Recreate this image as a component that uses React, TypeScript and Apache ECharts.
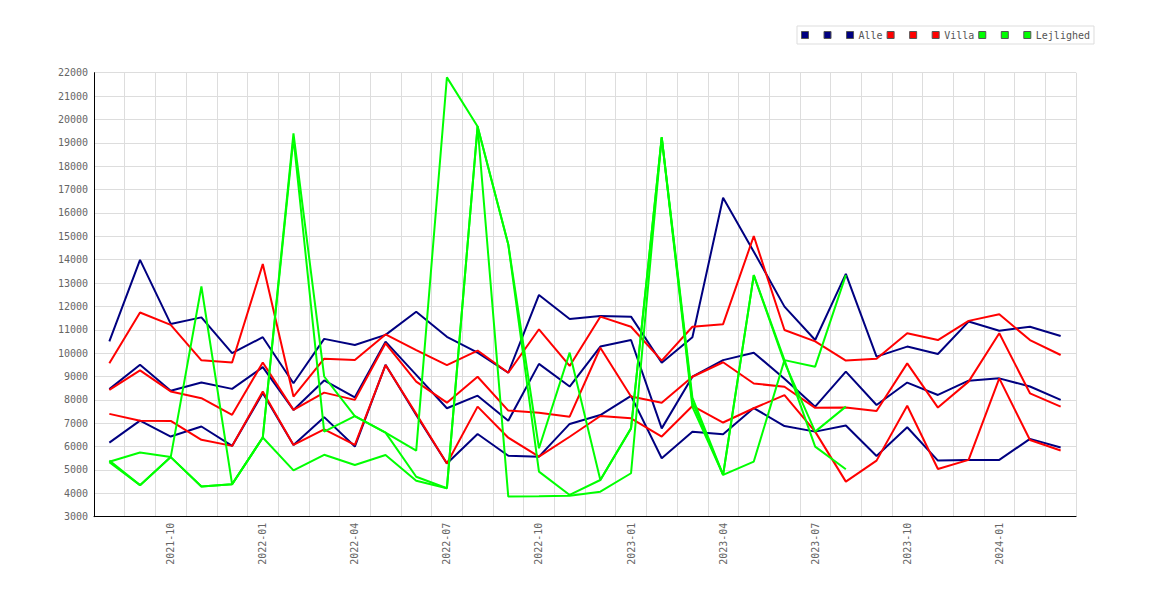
import React, { useEffect, useRef } from "react";
import * as echarts from "echarts";

const months = [
  "2021-08", "2021-09", "2021-10", "2021-11", "2021-12", "2022-01", "2022-02", "2022-03",
  "2022-04", "2022-05", "2022-06", "2022-07", "2022-08", "2022-09", "2022-10", "2022-11",
  "2022-12", "2023-01", "2023-02", "2023-03", "2023-04", "2023-05", "2023-06", "2023-07",
  "2023-08", "2023-09", "2023-10", "2023-11", "2023-12", "2024-01", "2024-02", "2024-03",
];

const alleHigh = [10500, 13990, 11250, 11530, 10000, 10680, 8710, 10610, 10350, 10780, 11770, 10700, 10020, 9160, 12490, 11460, 11590, 11560, 9590, 10680, 16650, 14340, 11990, 10560, 13390, 9850, 10280, 9960, 11350, 10960, 11130, 10730];
const alleMid = [8460, 9500, 8390, 8740, 8470, 9400, 7570, 8830, 8110, 10490, 9070, 7640, 8180, 7110, 9540, 8570, 10280, 10560, 6780, 8990, 9700, 10020, 8900, 7710, 9210, 7780, 8740, 8210, 8820, 8920, 8570, 8000];
const alleLow = [6170, 7110, 6430, 6860, 6030, 8290, 6070, 7260, 6000, 9500, 7350, 5280, 6540, 5610, 5570, 6970, 7350, 8170, 5500, 6640, 6530, 7650, 6880, 6640, 6900, 5600, 6830, 5400, 5430, 5430, 6330, 5960];

const villaHigh = [9570, 11740, 11210, 9690, 9600, 13810, 8140, 9760, 9710, 10800, 10130, 9490, 10110, 9160, 11020, 9450, 11560, 11130, 9680, 11130, 11240, 15010, 10990, 10500, 9680, 9760, 10850, 10560, 11380, 11660, 10560, 9920];
const villaMid = [8430, 9260, 8360, 8070, 7360, 9600, 7570, 8310, 8000, 10420, 8780, 7880, 8990, 7540, 7450, 7280, 10230, 8140, 7880, 8990, 9610, 8700, 8560, 7660, 7670, 7520, 9560, 7670, 8780, 10850, 8280, 7710];
const villaLow = [7400, 7110, 7100, 6290, 6030, 8360, 6070, 6740, 6070, 9490, 7400, 5280, 7710, 6380, 5570, 6420, 7310, 7210, 6430, 7740, 7030, 7640, 8200, 6640, 4500, 5400, 7750, 5040, 5430, 8920, 6280, 5830];

const lejHigh = [5350, 5750, 5550, 12850, 4390, 6390, 19400, 9000, 7300, 6600, 5830, 21800, 19700, 14650, 5930, 10020, 4570, 6780, 19230, 7900, 4790, 13340, 9700, 9420, 13340, null, null, null, null, null, null, null];
const lejMid = [5330, 4350, 5550, 4290, 4390, 6390, 19200, 6640, 7300, 6600, 4710, 4220, 19700, 14650, 4930, 3930, 4570, 6780, 19230, 8100, 4790, 13340, 9600, 6640, 7710, null, null, null, null, null, null, null];
const lejLow = [5400, 4350, 5550, 4290, 4390, 6390, 4980, 5650, 5210, 5640, 4540, 4220, 19700, 3860, 3870, 3900, 4070, 4860, 19230, 7700, 4790, 5360, 9700, 6000, 5030, null, null, null, null, null, null, null];

const groupNames = ["Alle", "Villa", "Lejlighed"];
const groupColors = ["#000080", "#ff0000", "#00ff00"];
const groupData = [
  [alleLow, alleMid, alleHigh],
  [villaLow, villaMid, villaHigh],
  [lejLow, lejMid, lejHigh],
];

const MONO = "'DejaVu Sans Mono', 'Liberation Mono', monospace";

export default function App() {
  const ref = useRef<HTMLDivElement>(null);

  useEffect(() => {
    if (!ref.current) return;
    const chart = echarts.init(ref.current, undefined, { renderer: "svg" });

    const series: any[] = [];
    const legendNames: string[] = [];
    groupNames.forEach((g, gi) => {
      groupData[gi].forEach((arr, k) => {
        const name = k === 2 ? g : `${g}-${k}`;
        legendNames.push(name);
        series.push({
          name,
          type: "line",
          data: arr,
          showSymbol: false,
          symbol: "none",
          connectNulls: false,
          color: groupColors[gi],
          itemStyle: { color: groupColors[gi] },
          lineStyle: { color: groupColors[gi], width: 2 },
        });
      });
    });

    chart.setOption({
      animation: false,
      backgroundColor: "#ffffff",
      legend: {
        data: legendNames,
        left: 797,
        top: 26,
        orient: "horizontal",
        icon: "rect",
        itemWidth: 7,
        itemHeight: 7,
        itemGap: 4,
        padding: [4, 4, 4, 4],
        borderColor: "#dddddd",
        borderWidth: 1,
        selectedMode: false,
        itemStyle: { borderColor: "#555555", borderWidth: 1 },
        formatter: (name: string) => (name.indexOf("-") >= 0 ? " " : name),
        textStyle: { fontFamily: MONO, fontSize: 10, color: "#555555" },
      },
      grid: { left: 94, right: 94, top: 72.7, bottom: 83.3, containLabel: false },
      xAxis: {
        type: "category",
        data: months,
        boundaryGap: true,
        axisLine: { show: true, lineStyle: { color: "#000000", width: 1 } },
        axisTick: { show: false },
        splitLine: { show: true, interval: 0, lineStyle: { color: "#dddddd", width: 1 } },
        axisLabel: {
          rotate: 90,
          margin: 6,
          interval: (index: number) => index % 3 === 2,
          fontFamily: MONO,
          fontSize: 10,
          color: "#666666",
        },
      },
      yAxis: {
        type: "value",
        min: 3000,
        max: 22000,
        interval: 1000,
        axisLine: { show: true, lineStyle: { color: "#000000", width: 1 } },
        axisTick: { show: false },
        splitLine: { show: true, lineStyle: { color: "#dddddd", width: 1 } },
        axisLabel: {
          margin: 6,
          formatter: (v: number) => String(v),
          fontFamily: MONO,
          fontSize: 10,
          color: "#666666",
        },
      },
      series,
    });

    return () => chart.dispose();
  }, []);

  return (
    <div
      ref={ref}
      style={{ position: "fixed", left: 0, top: 0, width: 1170, height: 600, background: "#fff" }}
    />
  );
}
